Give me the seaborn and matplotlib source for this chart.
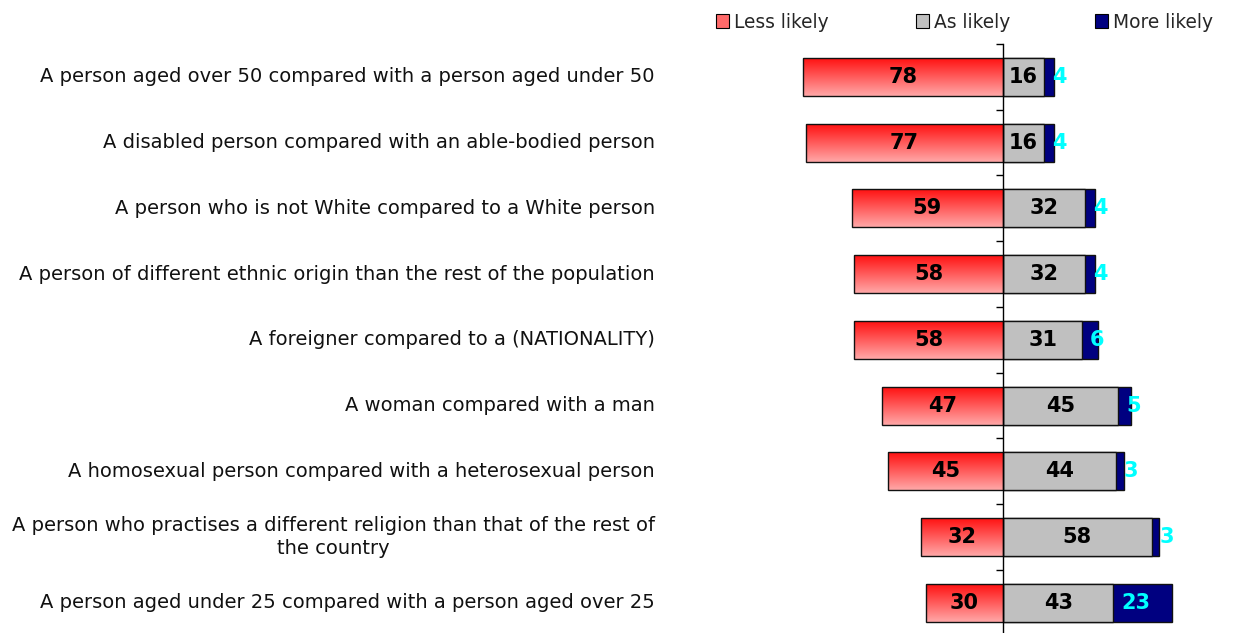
import numpy as np
import pandas as pd
import matplotlib
matplotlib.use("Agg")
import matplotlib.pyplot as plt
import seaborn as sns
from matplotlib.patches import Patch
from matplotlib.transforms import blended_transform_factory

categories = [
    "A person aged over 50 compared with a person aged under 50",
    "A disabled person compared with an able-bodied person",
    "A person who is not White compared to a White person",
    "A person of different ethnic origin than the rest of the population",
    "A foreigner compared to a (NATIONALITY)",
    "A woman compared with a man",
    "A homosexual person compared with a heterosexual person",
    "A person who practises a different religion than that of the rest of\nthe country",
    "A person aged under 25 compared with a person aged over 25",
]
less_likely = [78, 77, 59, 58, 58, 47, 45, 32, 30]
as_likely = [16, 16, 32, 32, 31, 45, 44, 58, 43]
more_likely = [4, 4, 4, 4, 6, 5, 3, 3, 23]
legend_labels = ["Less likely", "As likely", "More likely"]

RED_TOP = np.array([1.0, 0.05, 0.05])
RED_BOT = np.array([1.0, 0.66, 0.66])
GREY = "#c0c0c0"
NAVY = "#000080"
CYAN = "#00ffff"

df = pd.DataFrame({
    "cat": categories,
    "less": less_likely,
    "as_": as_likely,
    "more": more_likely,
})
df["neg_less"] = -df["less"]
df["as_more"] = df["as_"] + df["more"]

sns.set_style("white")
plt.rcParams["font.family"] = ["DejaVu Sans"]

W, H = 1254, 633
fig = plt.figure(figsize=(W / 100, H / 100), dpi=100)
ax_left_px, ax_right_px = 660, 1254
top_px = 44
band = 65.75
ax = fig.add_axes([ax_left_px / W, 1 - (top_px + 9 * band) / H,
                   (ax_right_px - ax_left_px) / W, 9 * band / H])

scale = 2.564  # px per unit
zero_px = 1003
xmin = -(zero_px - ax_left_px) / scale
xmax = (ax_right_px - zero_px) / scale

bar_w = 0.58
common = dict(orient="h", width=bar_w, edgecolor="#111111", linewidth=1.0, saturation=1)
sns.barplot(data=df, x="as_more", y="cat", color=NAVY, ax=ax, **common)
sns.barplot(data=df, x="as_", y="cat", color=GREY, ax=ax, **common)
sns.barplot(data=df, x="neg_less", y="cat", color="red", ax=ax, **common)

# gradient fill for red bars
grad = np.linspace(0, 1, 256)[:, None, None]
img = RED_TOP[None, None, :] * (1 - grad) + RED_BOT[None, None, :] * grad
red_container = ax.containers[2]
for p in red_container.patches:
    x0, y0 = p.get_x(), p.get_y()
    w, h = p.get_width(), p.get_height()
    im = ax.imshow(img, extent=[x0, x0 + w, y0 + h, y0], aspect="auto",
                   interpolation="bilinear", zorder=p.get_zorder() + 0.1)
    im.set_clip_path(p)
    p.set_facecolor("none")
    p.set_zorder(p.get_zorder() + 0.2)

ax.set_xlim(xmin, xmax)
ax.set_ylim(len(categories) - 0.5, -0.5)
ax.set_xlabel("")
ax.set_ylabel("")
ax.set_xticks([])

# zero line as left spine with ticks between categories
for s in ["top", "right", "bottom"]:
    ax.spines[s].set_visible(False)
ax.spines["left"].set_position(("data", 0))
ax.spines["left"].set_color("black")
ax.spines["left"].set_linewidth(1.0)
ax.spines["left"].set_zorder(10)
ax.set_yticks(np.arange(-0.5, len(categories) - 0.5, 1.0))
ax.set_yticklabels([])
ax.tick_params(axis="y", left=True, length=5, width=1, color="black", direction="out")

# category labels
trans = blended_transform_factory(fig.transFigure, ax.transData)
for i, c in enumerate(categories):
    ax.text(655 / W, i, c, transform=trans, ha="right", va="center",
            multialignment="center", fontsize=14.0, color="#111111",
            linespacing=1.25, clip_on=False)

# value labels
lab_fs = 15
for i in range(len(categories)):
    ax.text(-less_likely[i] / 2, i, str(less_likely[i]), ha="center", va="center",
            fontsize=lab_fs, fontweight="bold", color="black", zorder=20)
    ax.text(as_likely[i] / 2, i, str(as_likely[i]), ha="center", va="center",
            fontsize=lab_fs, fontweight="bold", color="black", zorder=20)
    ax.text(as_likely[i] + 3.0, i, str(more_likely[i]), ha="left", va="center",
            fontsize=lab_fs, fontweight="bold", color=CYAN, zorder=20)

# legend: three entries positioned like the original
handles = [
    Patch(facecolor="#ff6a6a", edgecolor="black", linewidth=0.8),
    Patch(facecolor=GREY, edgecolor="black", linewidth=0.8),
    Patch(facecolor=NAVY, edgecolor="black", linewidth=0.8),
]
leg_x = [716, 916, 1095]
for hnd, lab, lx in zip(handles, legend_labels, leg_x):
    fig.legend([hnd], [lab], loc="center left",
               bbox_to_anchor=(lx / W, 1 - 22 / H), frameon=False,
               fontsize=13.4, handlelength=0.72, handleheight=0.72,
               handletextpad=0.25, borderaxespad=0, borderpad=0)

fig.savefig("out.png", dpi=100)
